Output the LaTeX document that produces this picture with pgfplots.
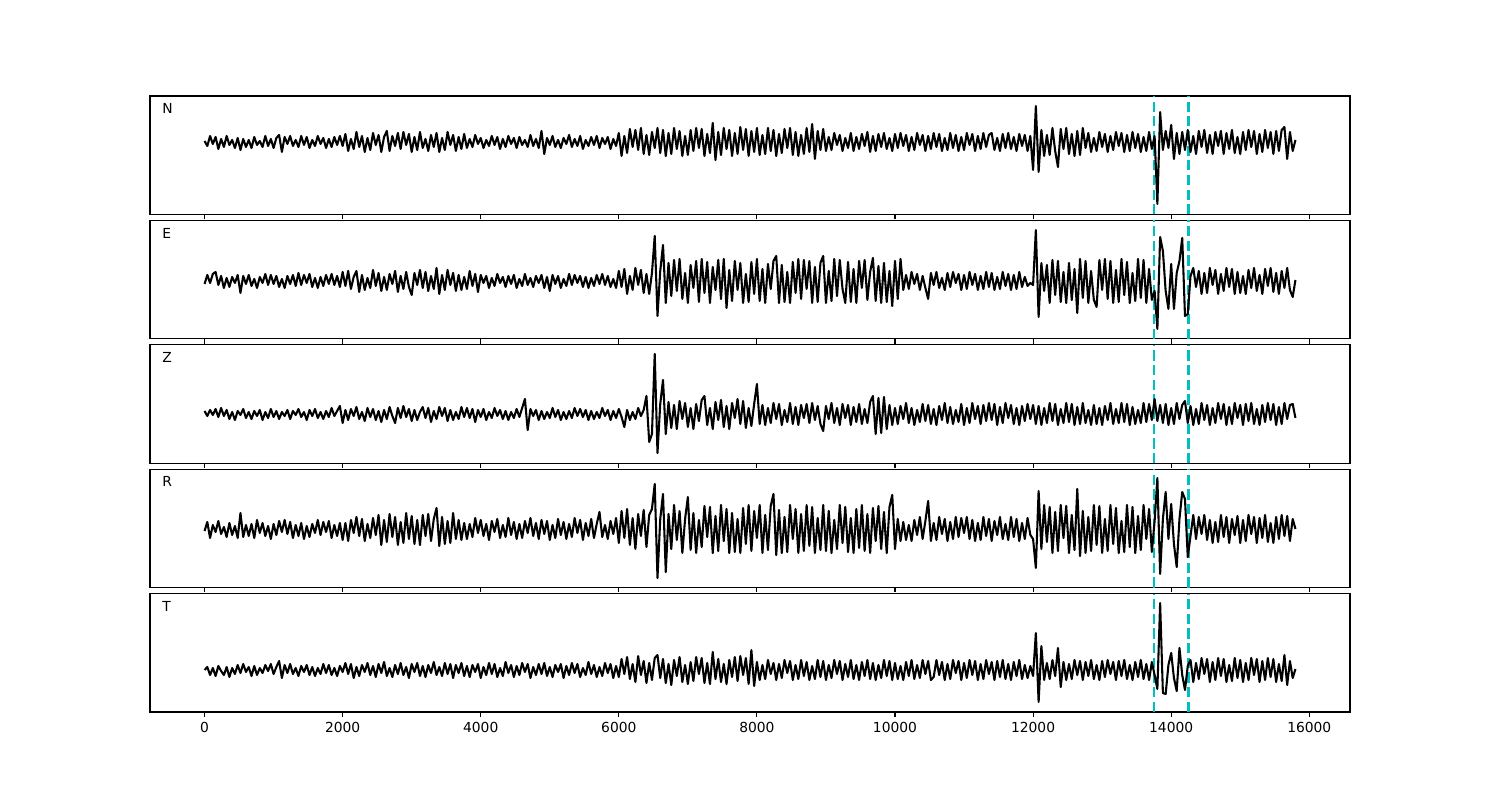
\documentclass[border=0pt]{standalone}
\usepackage{fontspec}
\setmainfont{DejaVu Sans}
\usepackage{pgfplots}
\usepackage{pgfplotstable}
\pgfplotsset{compat=1.18}

% seismogram traces, amplitude in screen units about each baseline
\pgfplotstableread{
t N E Z R T
0 1 -3 3 -2 0
40 -4 6 -2 7 3
80 6 -2 4 -9 -5
120 -2 7 -1 4 2
160 5 9 5 -3 -6
200 -7 -4 -3 8 4
240 3 5 6 -5 -1
280 -5 -7 -2 2 -5
320 6 3 4 -8 3
360 -3 -6 -5 6 -7
400 2 4 2 -6 2
440 -6 -2 -6 3 -4
480 4 6 3 -9 5
520 -8 -12 -1 16 -3
560 3 5 5 -8 6
600 -5 -3 -4 4 -2
640 2 6 2 -7 3
680 -6 -5 -5 5 -6
720 5 2 3 -9 4
760 -3 -7 -2 9 -5
800 1 4 4 -4 2
840 -5 -2 -6 6 -3
880 6 7 2 -7 5
920 -4 -4 -4 3 -1
960 3 6 5 -10 6
1000 -6 -3 -3 5 -4
1040 4 5 3 -6 3
1080 7 -6 -5 8 9
1120 -10 2 2 -3 -8
1160 5 -7 -2 9 5
1200 -2 5 4 -5 -3
1240 6 -3 -5 7 6
1280 -4 6 3 -9 -4
1320 2 -5 -1 4 2
1360 -5 8 5 -7 -6
1400 6 -4 -3 6 4
1440 -3 6 2 -10 -2
1480 5 -2 -6 3 5
1520 -6 7 4 -8 -5
1560 2 -6 -2 5 3
1600 -4 3 5 -4 -6
1640 6 -7 -4 9 2
1680 -2 4 2 -6 -4
1720 4 -5 -5 7 6
1760 -6 6 3 -3 -3
1800 3 -3 -3 8 5
1840 -5 7 6 -9 -5
1880 5 -4 -2 4 2
1920 -3 5 3 -7 -6
1960 6 -6 8 6 4
2000 -4 9 -9 -11 -2
2040 8 -5 4 6 7
2080 -9 10 -6 -12 -4
2120 3 -8 5 9 6
2160 -7 4 -2 -4 -8
2200 10 10 7 12 3
2240 -5 -11 -5 -7 -6
2280 6 6 2 10 5
2320 -10 -9 -7 -12 -2
2360 4 3 6 5 7
2400 -8 -7 -3 -9 -5
2440 9 11 5 11 4
2480 -3 -5 -6 -6 -7
2520 7 8 3 14 6
2560 -10 -10 -8 -16 -3
2600 5 4 4 9 8
2640 11 -9 -5 -13 -6
2680 -9 7 7 15 2
2720 6 -3 -2 -8 -7
2760 -4 10 -9 12 5
2800 9 -11 6 -16 -4
2840 -7 5 -4 7 7
2880 10 -8 8 -14 -5
2920 -3 9 -3 16 3
2960 8 -6 5 -10 -8
3000 -10 -14 -7 13 6
3040 5 8 4 -15 -2
3080 -8 -4 -6 9 7
3120 10 11 2 -16 -6
3160 -6 -7 7 14 4
3200 3 9 -4 -7 -7
3240 -9 -10 6 15 5
3280 7 5 -8 -12 -3
3320 -5 -8 3 10 8
3360 9 13 -5 21 -5
3400 -10 -13 7 -17 3
3440 4 6 -2 12 -6
3480 -8 -9 6 -15 7
3520 10 11 -7 8 -4
3560 -3 -4 4 -14 6
3600 7 8 -6 16 -8
3640 -9 -10 2 -10 5
3680 5 6 -5 9 -3
3720 -7 -9 7 -11 7
3760 8 4 -3 6 -6
3800 -6 -8 6 -10 4
3840 3 10 -4 5 -7
3880 -5 -5 5 -8 5
3920 7 7 -8 11 -2
3960 -2 -11 4 -4 6
4000 4 6 -3 9 -8
4040 -6 -2 5 -7 3
4080 2 5 -6 5 -5
4120 -4 -7 2 -11 7
4160 6 3 -4 8 -4
4200 -3 -5 6 -3 6
4240 5 7 -2 10 -7
4280 -7 -2 4 -9 2
4320 3 4 -5 4 -6
4360 -5 -6 3 -8 8
4400 6 5 -6 11 -3
4440 -2 -3 2 -6 5
4480 4 6 -4 7 -7
4520 -6 -7 5 -10 4
4560 5 2 -3 5 -5
4600 -3 -5 6 -9 7
4640 2 7 15 8 -2
4680 -5 -4 -16 -4 6
4720 7 3 5 11 -8
4760 -4 -6 -2 -7 3
4800 3 5 4 6 -5
4840 -6 -2 -6 -10 6
4880 11 6 3 9 -4
4920 -12 -7 -5 -5 7
4960 4 4 2 8 -6
5000 -3 -10 -4 -11 3
5040 6 6 6 4 -7
5080 -5 -3 -3 -9 5
5120 2 5 4 10 -2
5160 -6 -7 -6 -6 6
5200 4 2 2 7 -8
5240 -2 -5 -5 -10 4
5280 7 7 3 5 -5
5320 -5 -4 -4 -8 7
5360 3 6 6 11 -3
5400 -4 -2 -2 -4 6
5440 6 5 5 9 -7
5480 -7 -6 -3 -11 2
5520 2 4 4 6 -5
5560 -4 -7 -6 -7 8
5600 5 3 3 10 -4
5640 -3 -5 -5 -9 5
5680 6 6 2 5 -7
5720 -6 -3 -4 17 3
5760 4 7 6 -8 -6
5800 -2 -4 -2 4 7
5840 5 5 4 -10 -3
5880 -7 -6 -6 8 6
5920 3 2 3 -5 -8
5960 -4 -7 -4 11 4
6000 9 10 5 -14 -7
6040 -14 -6 -3 18 11
6080 6 12 -13 -9 -4
6120 -11 -13 4 20 13
6160 13 5 -6 -16 -9
6200 -5 -9 2 11 6
6240 12 13 -5 -20 -12
6280 -8 -4 6 15 14
6320 14 11 -2 -7 -5
6360 -12 -12 4 19 9
6400 7 7 18 -18 -13
6440 -13 -13 -28 14 7
6480 10 8 -20 20 -10
6520 -6 45 60 45 12
6560 14 -35 -39 -49 15
6600 -11 10 10 10 -8
6640 12 36 34 35 11
6680 -14 -22 -20 -43 -13
6720 9 18 12 15 6
6760 -12 -15 -14 -20 -15
6800 14 21 9 24 10
6840 -7 -10 -15 -11 -6
6880 11 22 13 18 13
6920 -14 -18 -5 -24 -12
6960 6 8 11 10 5
7000 -13 -22 -13 32 -14
7040 12 16 6 -21 8
7080 -9 -7 -15 16 -11
7120 14 20 10 -24 13
7160 -6 -21 -7 9 -4
7200 13 22 14 -18 12
7240 -14 -12 18 23 -13
7280 8 19 -11 -8 7
7320 -11 -22 6 22 -14
7360 19 14 -15 -24 18
7400 -18 -9 12 13 -9
7440 10 21 -6 -22 11
7480 -13 -18 14 24 -12
7520 14 22 -13 -12 6
7560 -7 -27 8 20 -14
7600 12 11 -15 -24 10
7640 -14 -20 11 16 -7
7680 9 20 -4 -23 13
7720 -12 -9 15 10 -11
7760 15 18 -10 -24 14
7800 -8 -22 13 21 -5
7840 13 7 -14 -15 12
7880 -14 -21 6 24 -14
7920 11 19 -12 -22 20
7960 -10 -13 10 18 -16
8000 14 22 30 -9 8
8040 -13 -20 -10 24 -10
8080 7 12 9 -24 5
8120 -12 -22 -11 14 -9
8160 14 17 6 -21 10
8200 -9 -8 -9 23 -4
8240 12 20 11 35 7
8280 -14 25 -5 -26 -10
8320 8 -22 10 19 6
8360 -11 16 -11 -24 -8
8400 13 -21 4 12 10
8440 -6 9 -8 -23 -3
8480 14 -22 11 24 9
8520 -13 19 -10 -10 -10
8560 10 -12 7 20 5
8600 -14 22 -11 -24 -9
8640 7 -18 9 15 10
8680 -12 21 -4 -22 -6
8720 14 -8 10 24 8
8760 -10 20 -9 -17 -10
8800 18 -22 11 22 4
8840 -17 14 -6 -24 -9
8880 11 -21 8 11 10
8920 -8 18 -10 -21 -7
8960 13 25 -17 24 9
9000 -9 -22 8 -22 -10
9040 5 10 -5 18 5
9080 -8 -20 11 -24 -8
9120 9 22 -9 9 10
9160 -3 -15 6 -20 -4
9200 7 21 -11 24 9
9240 -9 -8 10 -14 -10
9280 4 -22 -4 22 6
9320 -6 19 9 -23 -7
9360 9 -21 -11 11 10
9400 -9 12 7 -24 -9
9440 5 -22 -8 20 5
9480 -7 20 10 -19 -10
9520 8 -7 -10 24 8
9560 -4 21 5 -22 -6
9600 10 -19 -9 15 10
9640 -10 9 12 -24 -9
9680 6 23 18 21 7
9720 -9 -20 -20 -12 -10
9760 8 15 16 23 5
9800 -5 -22 -19 -20 -8
9840 9 18 17 17 10
9880 -7 -21 -15 -24 -6
9920 4 10 9 22 9
9960 -9 -25 -11 34 -10
10000 8 20 6 -20 7
10040 -6 -18 -10 10 -9
10080 9 22 8 -12 4
10120 -4 -9 -5 7 -10
10160 7 6 11 -11 8
10200 -9 -8 -9 4 -6
10240 5 9 6 -12 10
10280 -8 -3 -11 9 -9
10320 9 7 4 -6 5
10360 -3 -9 -8 12 -8
10400 7 5 10 -10 10
10440 -9 -7 -7 8 -4
10480 6 -18 9 28 9
10520 -7 8 -10 -12 -10
10560 9 -4 5 6 -7
10600 -5 9 -11 -11 10
10640 8 -7 8 12 -5
10680 -9 3 -6 -5 8
10720 4 -9 11 10 -10
10760 -8 8 -9 -12 6
10800 9 -6 7 7 -9
10840 -6 9 -10 -10 10
10880 7 -2 4 12 -3
10920 -9 7 -8 -8 9
10960 5 -9 10 11 -10
11000 -8 6 -11 -4 7
11040 9 -8 6 12 -8
11080 -3 9 -9 -10 10
11120 8 -4 11 9 -5
11160 -9 7 -5 -12 9
11200 6 -9 8 6 -10
11240 -7 5 -10 -11 6
11280 9 -8 9 12 -9
11320 -5 9 -7 -7 10
11360 7 -6 11 10 -4
11400 9 8 -6 -12 8
11440 -8 -9 10 8 -10
11480 4 4 -11 -6 9
11520 -9 -8 7 12 -7
11560 8 9 -9 -10 10
11600 -6 -5 11 5 -9
11640 9 7 -4 -11 6
11680 -7 -9 9 12 -10
11720 5 6 -10 -8 8
11760 -9 -8 6 10 -6
11800 8 9 -11 -12 10
11840 -4 -6 8 6 -9
11880 7 4 -7 -10 5
11920 -9 -5 10 11 -8
11960 6 -2 -5 -6 4
12000 -28 -4 9 -10 -6
12040 36 51 -10 -39 37
12080 -30 -36 8 38 -32
12120 12 18 -11 -20 24
12160 -14 -10 6 24 -10
12200 7 16 -9 -13 7
12240 -13 -22 11 22 -9
12280 14 21 -7 -24 10
12320 -9 -14 10 17 -6
12360 -25 20 -11 -22 22
12400 13 -21 5 24 -17
12440 -7 9 -9 -9 8
12480 14 -22 11 23 -10
12520 -12 18 -8 -24 6
12560 8 -19 10 14 -9
12600 -14 12 -11 -21 10
12640 11 -32 7 40 -5
12680 -13 22 -10 -27 9
12720 14 -17 11 18 -10
12760 -6 20 -9 -24 8
12800 9 -22 4 12 -6
12840 -10 10 -11 -22 10
12880 4 -19 9 24 -9
12920 -9 -26 -10 -16 5
12960 10 21 6 23 -10
13000 -5 -9 -11 -24 9
13040 8 22 8 10 -7
13080 -10 -18 -6 -22 10
13120 6 20 11 24 -4
13160 -8 -22 -10 -15 8
13200 10 11 5 21 -10
13240 -4 -21 -9 -24 9
13280 9 22 11 8 -6
13320 -10 -14 -8 -23 10
13360 7 19 10 24 -9
13400 -9 -22 -11 -18 5
13440 10 8 7 22 -10
13480 -6 -20 -10 -24 8
13520 8 22 4 13 -7
13560 -10 -17 -9 -21 10
13600 5 21 11 24 -9
13640 -9 -22 -8 -10 6
13680 10 12 10 20 -10
13720 -7 -19 -6 -23 8
13760 6 -10 15 8 -5
13800 -62 -48 -7 51 -19
13840 30 44 9 -45 67
13880 -8 30 -9 10 -23
13920 11 -10 10 37 -24
13960 -6 -28 -11 -10 5
14000 17 17 6 25 17
14040 -17 -28 -10 -15 -8
14080 9 8 11 -38 -21
14120 -12 20 -5 10 22
14160 10 43 9 37 -5
14200 -8 -35 13 30 -20
14240 12 -33 -9 -28 4
14280 -10 5 8 -7 10
14320 6 13 -11 14 -12
14360 -12 -6 5 -10 7
14400 11 10 -10 12 -9
14440 -5 -13 11 -5 12
14480 12 8 -6 14 -4
14520 -11 -12 9 -11 11
14560 7 13 -11 9 -12
14600 -12 -4 6 -14 8
14640 10 11 -9 7 -10
14680 -4 -13 11 -13 12
14720 11 7 -5 14 -6
14760 -12 -10 10 -8 11
14800 9 13 -11 12 -12
14840 -7 -6 7 -14 5
14880 12 12 -10 10 -11
14920 -11 -13 11 -6 12
14960 5 9 -4 13 -8
15000 -12 -12 9 -14 10
15040 10 5 -11 9 -12
15080 -8 -13 10 -12 7
15120 12 11 -7 14 -10
15160 -5 -7 11 -5 12
15200 11 13 -10 12 -5
15240 -12 -10 5 -14 11
15280 8 6 -11 11 -12
15320 -10 -13 9 -9 9
15360 12 12 -8 14 -10
15400 -6 -5 11 -13 12
15440 10 13 -6 6 -7
15480 -12 -11 10 -14 11
15520 11 8 -11 12 -12
15560 -9 -13 7 -10 6
15600 12 10 -10 14 -11
15640 15 -7 11 -7 15
15680 -17 13 -5 13 -15
15720 10 -9 9 -12 9
15760 -9 -16 10 10 -8
15800 2 1 -4 0 1
}\seis

\pgfplotsset{
  panel/.style={
    anchor=south west,
    scale only axis,
    width=12in, height=1.1846in,
    xmin=-790, xmax=16590,
    xtick={0,2000,...,16000},
    scaled x ticks=false,
    ytick=\empty,
    xtick pos=left,
    tick align=outside,
    major tick length=3.5pt,
    tick style={black, line width=0.8pt},
    axis line style={line width=0.8pt},
    tick label style={font=\fontsize{10}{12}\selectfont},
    /pgf/number format/assume math mode=true,
    /pgf/number format/1000 sep={},
    clip=true,
  },
  trace/.style={black, line width=1.5pt, line join=round},
  pick/.style={color={rgb,255:red,0;green,191;blue,191}, line width=2pt, dash pattern=on 7.4pt off 3.2pt},
}
\tikzset{lab/.style={anchor=base west, inner sep=0pt, font=\fontsize{10}{12}\selectfont}}

\begin{document}
\begin{tikzpicture}
\path[use as bounding box] (0,0) rectangle (15in,8in);

\begin{axis}[panel, at={(1.5in,5.8554in)}, ymin=-72.5, ymax=46, xticklabels={}]
\addplot[pick] coordinates {(13750,-72.5) (13750,46)};
\addplot[pick] coordinates {(14250,-72.5) (14250,46)};
\addplot[trace] table[x=t, y=N] {\seis};
\node[lab] at (rel axis cs:0.01,0.85) {N};
\end{axis}

\begin{axis}[panel, at={(1.5in,4.6115in)}, ymin=-57.9, ymax=60.6, xticklabels={}]
\addplot[pick] coordinates {(13750,-57.9) (13750,60.6)};
\addplot[pick] coordinates {(14250,-57.9) (14250,60.6)};
\addplot[trace] table[x=t, y=E] {\seis};
\node[lab] at (rel axis cs:0.01,0.85) {E};
\end{axis}

\begin{axis}[panel, at={(1.5in,3.3677in)}, ymin=-49.2, ymax=69.2, xticklabels={}]
\addplot[pick] coordinates {(13750,-49.2) (13750,69.2)};
\addplot[pick] coordinates {(14250,-49.2) (14250,69.2)};
\addplot[trace] table[x=t, y=Z] {\seis};
\node[lab] at (rel axis cs:0.01,0.85) {Z};
\end{axis}

\begin{axis}[panel, at={(1.5in,2.1238in)}, ymin=-58.6, ymax=59.8, xticklabels={}]
\addplot[pick] coordinates {(13750,-58.6) (13750,59.8)};
\addplot[pick] coordinates {(14250,-58.6) (14250,59.8)};
\addplot[trace] table[x=t, y=R] {\seis};
\node[lab] at (rel axis cs:0.01,0.85) {R};
\end{axis}

\begin{axis}[panel, at={(1.5in,0.88in)}, ymin=-42, ymax=76.5]
\addplot[pick] coordinates {(13750,-42) (13750,76.5)};
\addplot[pick] coordinates {(14250,-42) (14250,76.5)};
\addplot[trace] table[x=t, y=T] {\seis};
\node[lab] at (rel axis cs:0.01,0.85) {T};
\end{axis}
\end{tikzpicture}
\end{document}
